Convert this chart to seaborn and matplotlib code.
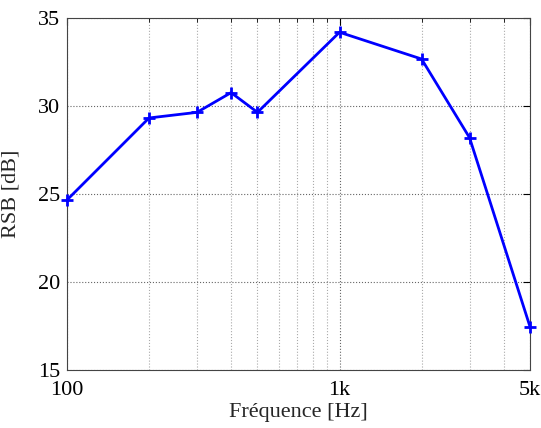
import matplotlib
matplotlib.use("Agg")
import matplotlib.pyplot as plt
import seaborn as sns
import pandas as pd
from matplotlib.ticker import FixedLocator, NullFormatter

freqs = [100, 200, 300, 400, 500, 1000, 2000, 3000, 5000]
rsb = [24.66, 29.32, 29.64, 30.76, 29.64, 34.19, 32.67, 28.2, 17.46]
xtick_vals = [100, 1000, 5000]
xtick_labels = ["100", "1k", "5k"]
ytick_vals = [15, 20, 25, 30, 35]

sns.set_style("white")
plt.rcParams['font.family'] = ['Liberation Serif', 'DejaVu Serif']

df = pd.DataFrame({"f": freqs, "rsb": rsb})

fig = plt.figure(figsize=(5.41, 4.28), dpi=100)
ax = fig.add_axes([67/541, 1 - 370/428, (530 - 67)/541, (370 - 18)/428])

sns.lineplot(data=df, x="f", y="rsb", ax=ax, color="#0000FF", linewidth=2,
             marker="+", markersize=9, markeredgewidth=2, markeredgecolor="#0000FF")
for line in ax.lines:
    line.set_clip_on(False)
    line.set_zorder(5)

ax.set_xscale("log")
ax.set_xlim(100, 5000)
ax.set_ylim(15, 35)
ax.xaxis.set_major_locator(FixedLocator(xtick_vals))
ax.set_xticklabels(xtick_labels)
minor = [200, 300, 400, 500, 600, 700, 800, 900, 2000, 3000, 4000]
ax.xaxis.set_minor_locator(FixedLocator(minor))
ax.xaxis.set_minor_formatter(NullFormatter())
ax.set_yticks(ytick_vals)

ax.grid(True, which="major", linestyle=":", color="#666666", linewidth=0.8)
ax.grid(True, which="minor", axis="x", linestyle=":", color="#aaaaaa", linewidth=0.8)

ax.tick_params(axis="both", which="both", direction="in", top=True, right=True,
               labelsize=16, colors="black", length=5)
ax.tick_params(axis="x", which="minor", length=3)
ax.tick_params(axis="x", pad=8)
ax.tick_params(axis="y", pad=5)
for s in ax.spines.values():
    s.set_color("#444444")
    s.set_linewidth(0.8)

ax.set_xlabel("Fréquence [Hz]", fontsize=16)
ax.set_ylabel("RSB [dB]", fontsize=16)
ax.xaxis.set_label_coords(0.5, -0.095)
ax.yaxis.set_label_coords(-0.1, 0.5)

fig.savefig("out.png", dpi=100)
